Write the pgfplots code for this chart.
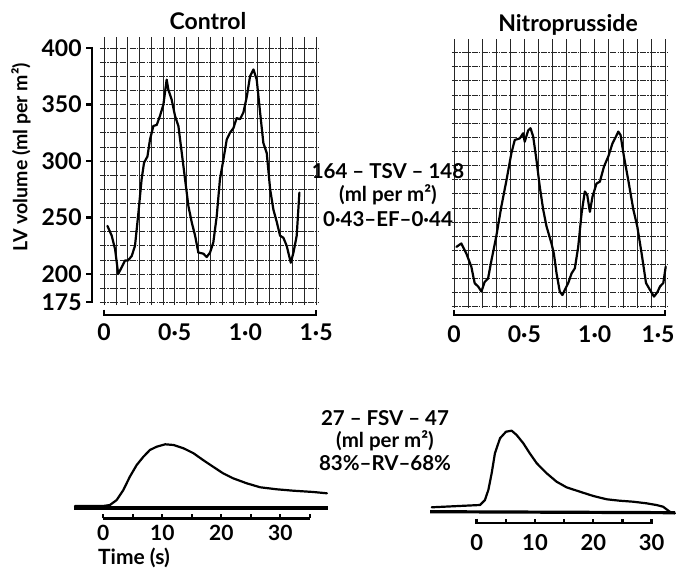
\documentclass[border=0pt]{standalone}
\usepackage{pgfplots}
\pgfplotsset{compat=1.18}
\usepackage{fontspec}
\setmainfont{Lato}

\pgfplotsset{
  panel/.style={scale only axis, anchor=south west, axis line style={draw=none},
    major tick length=0pt, minor tick length=0pt, clip=false,
    tick label style={font=\fontsize{23}{23}\selectfont\bfseries, inner sep=0pt}},
  trace/.style={black, line width=2.2pt, line join=round, line cap=round, no marks},
  gridst/.style={grid=major, major grid style={black!85, line width=0.6pt},
    y grid style={dash pattern=on 6pt off 1.2pt on 1.5pt off 1.2pt}},
}

\begin{document}
\begin{tikzpicture}
\useasboundingbox (0,0) rectangle (676pt,569pt);

% ---------------- Control (top left)
\begin{axis}[panel, gridst, at={(99.8pt,263.9pt)}, width=218.4pt, height=268.4pt,
  xmin=-0.03, xmax=1.515, ymin=172.5, ymax=410,
  xtick distance=0.0833333, ytick={175,187.5,...,400},
  xticklabels={}, yticklabels={},
  extra x ticks={0,0.5,1,1.5}, extra x tick labels={0,0·5,1·0,1·5},
  extra x tick style={grid=none, xticklabel style={anchor=center, yshift=-27pt}},
  extra y ticks={175,200,250,300,350,400}, extra y tick labels={175,200,250,300,350,400},
  extra y tick style={grid=none, yticklabel style={anchor=east, xshift=-18pt}}]
\addplot[trace] coordinates {
(0.024,242.6) (0.054,234) (0.078,222) (0.10,200) (0.125,206) (0.149,212) (0.17,212)
(0.196,216) (0.219,225) (0.243,254) (0.266,284) (0.283,298.5) (0.307,304) (0.325,319)
(0.349,331) (0.373,332) (0.396,340) (0.42,350) (0.443,372) (0.455,363) (0.479,354)
(0.502,340) (0.526,331) (0.55,307) (0.573,284) (0.597,260) (0.62,246) (0.644,234)
(0.667,219) (0.703,218) (0.726,215) (0.75,219) (0.773,228) (0.797,251) (0.82,284)
(0.844,301) (0.868,319) (0.891,325) (0.915,329) (0.938,338) (0.962,337) (0.986,343)
(1.01,357) (1.033,375) (1.057,381) (1.08,372) (1.104,343) (1.127,316) (1.151,307)
(1.175,275) (1.198,257) (1.222,246) (1.245,234) (1.269,232) (1.292,225) (1.321,210)
(1.34,219) (1.363,234) (1.382,272)};
\draw[line width=2.6pt] (axis cs:-0.085,401) -- (axis cs:-0.085,174);
\pgfplotsinvokeforeach{175,200,250,300,350,400}{
  \draw[line width=2.2pt] (axis cs:-0.085,#1) -- (axis cs:-0.125,#1);}
\draw[line width=2.6pt] (axis cs:0,168.5) -- (axis cs:0,163.7) -- (axis cs:1.5,163.7) -- (axis cs:1.5,168.5);
\end{axis}

% ---------------- Nitroprusside (top right)
\begin{axis}[panel, gridst, at={(451.9pt,261.1pt)}, width=215.9pt, height=268.4pt,
  xmin=-0.015, xmax=1.52, ymin=170, ymax=407.5,
  xtick distance=0.1, ytick={171,183.5,...,408.5},
  xticklabels={}, yticklabels={},
  extra x ticks={0,0.5,1,1.5}, extra x tick labels={0,0·5,1·0,\kern-14pt 1·5},
  extra x tick style={grid=none, xticklabel style={anchor=center, yshift=-26pt}}]
\addplot[trace] coordinates {
(0.017,224) (0.052,227) (0.088,218) (0.123,206.5) (0.147,191.8) (0.171,189) (0.195,184.4)
(0.218,193) (0.242,196) (0.266,212) (0.30,233) (0.337,260) (0.373,283) (0.408,307)
(0.432,318.6) (0.468,320) (0.491,324.5) (0.503,317) (0.527,327) (0.544,329) (0.563,321.5)
(0.586,301) (0.61,277) (0.634,257) (0.658,242) (0.693,227) (0.71,218) (0.729,200.6)
(0.752,184.4) (0.771,181.4) (0.788,186) (0.812,192) (0.836,200.6) (0.859,205) (0.883,224)
(0.907,253.7) (0.93,273) (0.947,270) (0.966,255) (0.985,268.6) (1.013,280) (1.037,281.7)
(1.066,295) (1.097,304) (1.127,315.7) (1.151,321.5) (1.168,326) (1.184,323) (1.208,304)
(1.239,283) (1.275,257) (1.303,242) (1.334,218) (1.365,192) (1.393,186) (1.422,180)
(1.446,184) (1.465,189) (1.488,192) (1.505,206.5)};
\draw[line width=2.6pt] (axis cs:0,168.5) -- (axis cs:0,163.7) -- (axis cs:1.5,163.7) -- (axis cs:1.5,168.5);
\end{axis}

% ---------------- Bottom left (control dilution curve)
\begin{axis}[panel, at={(73.8pt,56pt)}, width=253.7pt, height=75pt,
  xmin=-5, xmax=38, ymin=-5, ymax=70, ytick=\empty,
  xtick={0,10,20,30}, xticklabels={0,10,20,30},
  xticklabel style={anchor=center, yshift=-19.5pt, font=\fontsize{21}{21}\selectfont\bfseries}]
\addplot[black, line width=3.2pt, no marks] coordinates {(-5,0) (38,0)};
\addplot[trace] coordinates {
(-4.8,2) (0,2) (1.13,3) (2.27,8) (3.4,18) (4.5,31.3) (5.66,43) (6.8,51.3) (7.9,58)
(9.05,61.3) (10.5,63.7) (11.9,63) (13.6,59.7) (15.3,54.7) (16.9,48) (18.6,41.3)
(20.3,34.7) (22,29.7) (24.3,24.7) (26.6,20.7) (29.4,18.7) (32.2,17.3) (35.6,16) (37.9,14.7)};
\draw[line width=2.4pt] (axis cs:0,-10.5) -- (axis cs:35,-10.5);
\pgfplotsinvokeforeach{0,5,...,35}{
  \draw[line width=2.2pt] (axis cs:#1,-10.5) -- (axis cs:#1,-6.5);}
\end{axis}

% ---------------- Bottom right (nitroprusside dilution curve)
\begin{axis}[panel, at={(430pt,52.3pt)}, width=247.9pt, height=90pt,
  xmin=-8, xmax=34.5, ymin=-5, ymax=85, ytick=\empty,
  xtick={0,10,20,30}, xticklabels={0,10,20,30},
  xticklabel style={anchor=center, yshift=-26pt, font=\fontsize{22}{22}\selectfont\bfseries}]
\addplot[black, line width=3.2pt, no marks] coordinates {(-8,0) (34,-1)};
\addplot[trace] coordinates {
(-7.7,4.4) (0.57,6.7) (1.42,11.7) (2,21.7) (2.57,38.4) (3.13,58.4) (4,73.4) (5.03,80)
(6,81) (6.85,76.7) (8,68.4) (9.1,58.4) (10.3,48.4) (12,38.4) (13.7,30) (15.4,24.4)
(17.7,20) (20,15.7) (22.3,12.4) (24.5,11) (26.8,10) (29.1,8.4) (30.8,6.7) (31.95,5)
(33.1,0) (34,-1.6)};
\draw[line width=2.4pt] (axis cs:0,-7) -- (axis cs:0,-11.3) -- (axis cs:30,-11.3) -- (axis cs:30,-7);
\pgfplotsinvokeforeach{5,10,...,25}{
  \draw[line width=2.2pt] (axis cs:#1,-11.3) -- (axis cs:#1,-7.5);}
\end{axis}

% ---------------- Texts
\begin{scope}[every node/.style={font=\fontsize{23}{23}\selectfont\bfseries, inner sep=0pt}]
\node at (208pt,548pt) {Control};
\node at (568pt,544pt) {Nitroprusside};
\node[rotate=90, font=\fontsize{19.5}{19.5}\selectfont\bfseries] at (21pt,412pt) {LV volume (ml per m²)};
\node[font=\fontsize{20.5}{20.5}\selectfont\bfseries] at (388pt,398pt) {164 – TSV – 148};
\node[font=\fontsize{20.5}{20.5}\selectfont\bfseries] at (388pt,374pt) {(ml per m²)};
\node[font=\fontsize{20.5}{20.5}\selectfont\bfseries] at (388pt,350pt) {0·43–EF–0·44};
\node[font=\fontsize{20.5}{20.5}\selectfont\bfseries] at (385pt,151pt) {27 – FSV – 47};
\node[font=\fontsize{20.5}{20.5}\selectfont\bfseries] at (385pt,128pt) {(ml per m²)};
\node[font=\fontsize{20.5}{20.5}\selectfont\bfseries] at (385pt,106pt) {83\%–RV–68\%};
\node[anchor=west, font=\fontsize{21}{21}\selectfont\bfseries] at (98pt,11pt) {Time (s)};
\end{scope}
\end{tikzpicture}
\end{document}
